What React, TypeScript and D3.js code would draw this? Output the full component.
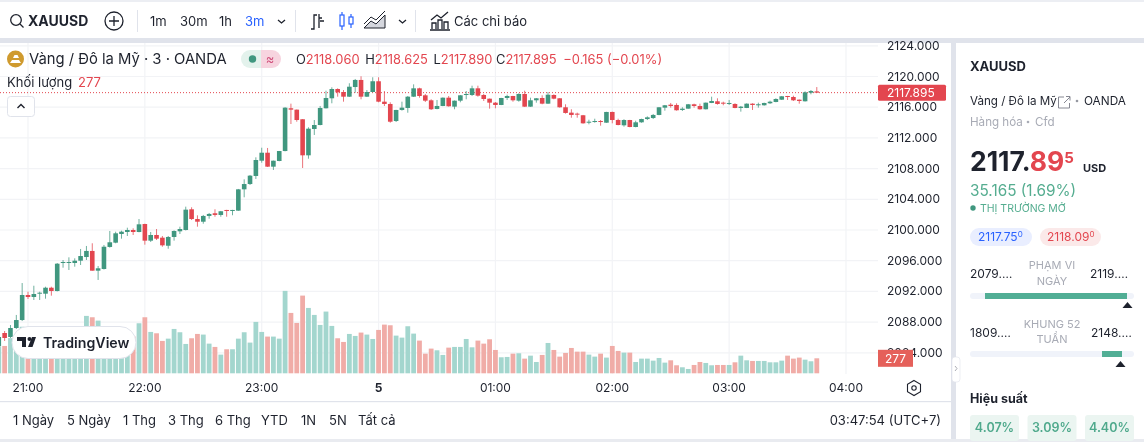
import React, { useEffect, useRef } from "react";
import * as d3 from "d3";

// 3 minute bars, first one is 20:45
const opens = [
  2084.89, 2086.58, 2086.06, 2087.23, 2088.27,
  2091.53, 2091.27, 2091.75, 2091.7, 2092.48, 2092.05, 2095.7, 2095.74, 2095.7, 2096.0,
  2096.48, 2097.27, 2094.7, 2094.92, 2097.79, 2098.35, 2099.48, 2099.74, 2100.0, 2099.74,
  2100.78, 2098.61, 2099.35, 2099.0, 2097.95, 2099.09, 2099.83, 2100.0, 2102.7, 2101.43,
  2101.08, 2101.83, 2102.18, 2101.96, 2102.61, 2102.52, 2102.52, 2105.3, 2105.99, 2107.04,
  2109.03, 2110.07, 2108.25, 2108.99, 2110.29, 2115.86, 2115.68, 2114.43, 2109.73, 2113.16,
  2113.68, 2115.86, 2117.16, 2118.37, 2117.98, 2117.37, 2118.63, 2119.55, 2117.37, 2117.98,
  2119.38, 2116.72, 2116.42, 2114.2, 2115.64, 2115.9, 2117.37, 2118.46, 2117.55, 2116.9,
  2115.77, 2116.16, 2117.24, 2116.07, 2116.85, 2117.59, 2117.59, 2118.46, 2117.59, 2117.11,
  2116.59, 2116.29, 2117.2, 2117.46, 2116.85, 2117.72, 2116.07, 2116.9, 2117.2, 2116.46,
  2117.59, 2117.16, 2115.99, 2115.29, 2115.16, 2114.95, 2114.03, 2114.11, 2114.2, 2113.98,
  2115.38, 2114.33, 2113.64, 2114.33, 2113.42, 2114.03, 2114.46, 2114.59, 2114.99, 2115.94,
  2116.33, 2116.29, 2115.64, 2115.81, 2116.38, 2116.16, 2115.73, 2116.55, 2116.77, 2116.59,
  2116.42, 2116.42, 2115.9, 2115.9, 2116.46, 2116.25, 2116.25, 2116.51, 2116.68, 2116.98,
  2117.46, 2117.33, 2116.98, 2116.77, 2117.89, 2118.06,
];
const closes = [
  2086.06, 2085.93, 2087.23, 2088.27, 2091.53,
  2091.27, 2091.66, 2091.83, 2092.48, 2092.05, 2095.61, 2095.83, 2095.83, 2096.0, 2096.61,
  2097.27, 2094.7, 2095.01, 2097.82, 2098.4, 2099.57, 2099.78, 2100.0, 2099.74, 2100.74,
  2098.61, 2099.35, 2098.87, 2098.0, 2099.09, 2099.87, 2100.13, 2102.65, 2101.43, 2101.08,
  2101.83, 2102.09, 2101.96, 2102.44, 2102.48, 2102.61, 2105.3, 2105.99, 2107.08, 2109.12,
  2110.07, 2108.25, 2109.03, 2110.29, 2115.94, 2115.68, 2114.33, 2109.73, 2113.2, 2113.68,
  2115.9, 2117.2, 2118.37, 2117.94, 2117.37, 2118.67, 2119.55, 2117.37, 2117.98, 2119.38,
  2116.72, 2116.42, 2114.11, 2115.64, 2115.94, 2117.37, 2118.46, 2117.46, 2116.85, 2115.73,
  2116.16, 2117.24, 2116.12, 2116.85, 2117.55, 2117.72, 2118.46, 2117.5, 2117.07, 2116.59,
  2116.29, 2117.2, 2117.46, 2116.9, 2117.72, 2116.07, 2116.9, 2117.16, 2116.46, 2117.63,
  2117.11, 2115.99, 2115.25, 2114.99, 2115.03, 2113.9, 2114.11, 2114.2, 2114.07, 2115.38,
  2114.33, 2113.68, 2114.33, 2113.42, 2114.03, 2114.46, 2114.68, 2114.99, 2115.99, 2116.25,
  2116.16, 2115.6, 2115.81, 2116.38, 2116.16, 2115.73, 2116.59, 2116.81, 2116.42, 2116.46,
  2116.55, 2115.9, 2116.07, 2116.46, 2116.29, 2116.38, 2116.55, 2116.72, 2117.07, 2117.42,
  2117.33, 2116.9, 2116.81, 2117.94, 2118.11, 2117.895,
];
const highs = [
  2086.3, 2086.84, 2087.62, 2088.93, 2093.09,
  2091.96, 2092.74, 2091.96, 2092.61, 2092.61, 2095.7, 2096.09, 2096.44, 2096.31, 2097.53,
  2097.92, 2098.27, 2095.31, 2098.05, 2099.87, 2099.78, 2099.91, 2100.3, 2100.22, 2101.43,
  2100.82, 2099.74, 2100.13, 2099.22, 2099.22, 2099.96, 2100.43, 2103.04, 2102.96, 2101.91,
  2101.96, 2102.22, 2102.7, 2102.48, 2102.63, 2102.63, 2105.35, 2106.6, 2107.17, 2109.47,
  2110.72, 2110.69, 2109.05, 2110.3, 2116.0, 2116.46, 2115.7, 2114.45, 2113.38, 2114.33,
  2116.16, 2118.15, 2118.59, 2118.46, 2118.24, 2119.12, 2119.68, 2120.03, 2118.24, 2119.9,
  2119.9, 2118.11, 2116.64, 2115.66, 2116.72, 2117.46, 2118.98, 2118.54, 2117.72, 2117.03,
  2116.94, 2117.27, 2117.46, 2116.88, 2117.59, 2118.11, 2118.8, 2118.8, 2117.72, 2117.12,
  2116.68, 2117.22, 2117.63, 2117.48, 2117.81, 2118.15, 2117.24, 2117.2, 2117.55, 2117.98,
  2117.68, 2117.18, 2116.38, 2115.73, 2115.29, 2114.99, 2114.37, 2114.5, 2114.33, 2115.4,
  2115.42, 2114.5, 2114.43, 2114.35, 2114.24, 2114.5, 2114.81, 2115.12, 2116.0, 2116.29,
  2116.55, 2116.51, 2115.99, 2116.42, 2116.46, 2116.46, 2116.61, 2117.37, 2117.16, 2116.72,
  2116.94, 2116.51, 2116.16, 2116.5, 2116.51, 2116.59, 2116.59, 2116.85, 2117.16, 2117.46,
  2117.47, 2117.5, 2117.0, 2118.07, 2118.24, 2118.625,
];
const lows = [
  2084.6, 2085.54, 2085.93, 2087.1, 2088.14,
  2091.01, 2090.88, 2090.88, 2091.05, 2091.44, 2092.0, 2095.09, 2094.79, 2095.22, 2095.44,
  2096.09, 2094.7, 2093.49, 2094.85, 2097.7, 2098.27, 2098.87, 2099.22, 2099.35, 2099.7,
  2098.09, 2098.44, 2098.7, 2097.82, 2097.56, 2098.61, 2099.48, 2099.94, 2101.3, 2100.43,
  2100.82, 2101.47, 2101.73, 2101.73, 2101.73, 2101.92, 2102.5, 2104.26, 2105.87, 2106.65,
  2108.77, 2108.21, 2107.82, 2108.95, 2110.25, 2113.81, 2114.11, 2108.08, 2109.29, 2112.38,
  2113.64, 2115.84, 2116.51, 2117.37, 2116.72, 2117.33, 2117.89, 2117.03, 2117.33, 2117.94,
  2116.64, 2116.16, 2113.98, 2114.07, 2115.55, 2115.28, 2117.33, 2117.24, 2116.68, 2115.64,
  2115.73, 2116.13, 2116.07, 2115.73, 2116.64, 2117.03, 2117.46, 2117.37, 2116.81, 2115.81,
  2115.86, 2116.27, 2116.94, 2116.72, 2116.72, 2116.04, 2116.04, 2116.59, 2116.38, 2116.43,
  2117.03, 2115.94, 2115.16, 2114.63, 2114.63, 2113.85, 2113.77, 2113.98, 2113.59, 2113.96,
  2113.9, 2113.64, 2113.46, 2113.38, 2113.38, 2113.98, 2114.33, 2114.46, 2114.95, 2115.55,
  2115.94, 2115.55, 2115.51, 2115.79, 2115.94, 2115.68, 2115.71, 2116.53, 2116.33, 2116.25,
  2116.29, 2115.86, 2115.42, 2115.88, 2115.64, 2115.94, 2116.2, 2116.42, 2116.64, 2116.94,
  2116.94, 2116.81, 2116.46, 2116.74, 2117.68, 2117.89,
];
const volumes = [
  500, 505, 650, 700, 860,
  585, 640, 520, 600, 560, 700, 600, 520, 540, 620,
  1060, 1035, 973, 760, 700, 620, 520, 600, 680, 924,
  1035, 764, 739, 598, 640, 819, 758, 542, 647, 727,
  715, 548, 487, 345, 444, 444, 640, 758, 567, 949,
  764, 678, 678, 640, 1522, 1115, 930, 1435, 1207, 1078,
  893, 1140, 875, 647, 579, 727, 690, 752, 715, 634,
  801, 899, 887, 696, 659, 869, 733, 604, 363, 456,
  425, 339, 474, 487, 487, 634, 480, 604, 548, 628,
  431, 296, 302, 363, 370, 271, 326, 209, 339, 560,
  431, 308, 376, 468, 400, 400, 345, 308, 363, 290,
  505, 413, 382, 382, 209, 271, 271, 234, 283, 197,
  240, 148, 111, 80, 154, 209, 191, 148, 154, 154,
  154, 203, 326, 240, 228, 228, 228, 203, 203, 234,
  326, 271, 290, 252, 222, 277,
];

const priceTicks = [2124, 2120, 2116, 2112, 2108, 2104, 2100, 2096, 2092, 2088, 2084];
const hourLabels = ["21:00", "22:00", "23:00", "5", "01:00", "02:00", "03:00", "04:00"];
const rangeLabels = ["1 Ngày", "5 Ngày", "1 Thg", "3 Thg", "6 Thg", "YTD", "1N", "5N", "Tất cả"];
const rangeX = [13, 67, 123, 168, 215, 261, 301, 329, 358];
const performance = ["4.07%", "3.09%", "4.40%"];
const lastPrice = 2117.895;
const lastVolume = 277;

const UP = "#40977F";
const DOWN = "#E3464F";
const VOL_UP = "#A3D6CE";
const VOL_DOWN = "#F0ACA7";
const GRID = "#F2F3F6";
const EDGE = "#E0E3EB";
const INK = "#1E222D";
const FONT = "Inter, 'Noto Sans', sans-serif";

const App: React.FC = () => {
  const chartRef = useRef<SVGGElement>(null);

  useEffect(() => {
    const x = d3.scaleLinear().domain([5, 145]).range([28, 846]);
    const y = d3.scaleLinear().domain([2084, 2120]).range([352.8, 76.5]);
    const v = d3.scaleLinear().domain([0, 277]).range([373.3, 358.3]);
    const bars = d3.range(opens.length);
    const hours = hourLabels.map((d, i) => ({ label: d, idx: 5 + i * 20 }));

    const g = d3.select(chartRef.current);
    g.selectAll("*").remove();

    g.append("g")
      .selectAll("line")
      .data(priceTicks)
      .join("line")
      .attr("x1", 0)
      .attr("x2", 878)
      .attr("y1", (d) => y(d))
      .attr("y2", (d) => y(d))
      .attr("stroke", GRID)
      .attr("stroke-width", 1.2);

    g.append("g")
      .selectAll("line")
      .data(hours)
      .join("line")
      .attr("x1", (d) => x(d.idx))
      .attr("x2", (d) => x(d.idx))
      .attr("y1", 43)
      .attr("y2", 374)
      .attr("stroke", GRID)
      .attr("stroke-width", 1.2);

    // volume goes under the candles
    g.append("g")
      .selectAll("rect")
      .data(bars)
      .join("rect")
      .attr("x", (i) => x(i) - 2.4)
      .attr("width", 4.8)
      .attr("y", (i) => v(volumes[i]))
      .attr("height", (i) => v(0) - v(volumes[i]))
      .attr("fill", (i) => (closes[i] >= opens[i] ? VOL_UP : VOL_DOWN));

    g.append("line")
      .attr("x1", 0)
      .attr("x2", 878)
      .attr("y1", y(lastPrice))
      .attr("y2", y(lastPrice))
      .attr("stroke", DOWN)
      .attr("stroke-width", 1)
      .attr("stroke-dasharray", "1 2");

    g.append("g")
      .selectAll("line")
      .data(bars)
      .join("line")
      .attr("x1", (i) => x(i))
      .attr("x2", (i) => x(i))
      .attr("y1", (i) => y(highs[i]))
      .attr("y2", (i) => y(lows[i]))
      .attr("stroke", (i) => (closes[i] >= opens[i] ? UP : DOWN))
      .attr("stroke-opacity", 0.75)
      .attr("stroke-width", 1);

    g.append("g")
      .selectAll("rect")
      .data(bars)
      .join("rect")
      .attr("x", (i) => x(i) - 2.3)
      .attr("width", 4.6)
      .attr("y", (i) => y(Math.max(opens[i], closes[i])))
      .attr("height", (i) => Math.max(1, Math.abs(y(opens[i]) - y(closes[i]))))
      .attr("fill", (i) => (closes[i] >= opens[i] ? UP : DOWN));

    // price scale
    g.append("g")
      .selectAll("text")
      .data(priceTicks)
      .join("text")
      .attr("x", 887)
      .attr("y", (d) => y(d) + 4)
      .attr("font-size", 12)
      .attr("fill", INK)
      .text((d) => d3.format(".3f")(d));

    g.append("rect")
      .attr("x", 878)
      .attr("y", y(lastPrice) - 8)
      .attr("width", 68)
      .attr("height", 16)
      .attr("rx", 1.5)
      .attr("fill", DOWN);
    g.append("text")
      .attr("x", 887)
      .attr("y", y(lastPrice) + 4.3)
      .attr("font-size", 12)
      .attr("fill", "#fff")
      .text(d3.format(".3f")(lastPrice));

    g.append("rect")
      .attr("x", 878)
      .attr("y", v(lastVolume) - 8.5)
      .attr("width", 35)
      .attr("height", 17)
      .attr("fill", "#E5605A");
    g.append("text")
      .attr("x", 895.5)
      .attr("y", v(lastVolume) + 4.3)
      .attr("font-size", 12)
      .attr("text-anchor", "middle")
      .attr("fill", "#fff")
      .text(lastVolume);

    // time scale
    g.append("g")
      .selectAll("text")
      .data(hours)
      .join("text")
      .attr("x", (d) => x(d.idx))
      .attr("y", 392)
      .attr("text-anchor", "middle")
      .attr("font-size", 12)
      .attr("font-weight", (d) => (d.label === "5" ? 700 : 400))
      .attr("fill", INK)
      .text((d) => d.label);
  }, []);

  return (
    <svg
      width={1144}
      height={442}
      style={{ position: "absolute", left: 0, top: 0, background: "#fff", fontFamily: FONT, filter: "blur(0.3px)" }}
    >
      {/* frame */}
      <rect x={0} y={0} width={1144} height={2} fill="#ECEEF3" />
      <rect x={0} y={38} width={1144} height={5} fill={EDGE} />
      <rect x={951} y={38} width={5} height={404} fill={EDGE} />
      <rect x={0} y={401} width={951} height={1.2} fill={EDGE} />
      <rect x={0} y={439} width={1144} height={3} fill="#E9EBF0" />

      {/* toolbar */}
      <g fill="none" stroke={INK} strokeWidth={1.3}>
        <circle cx={16} cy={20} r={5.3} />
        <path d="M20 24l3.5 3.5" />
        <circle cx={114} cy={21} r={9} />
        <path d="M109 21h10M114 16v10" />
        <path d="M278 20l3.5 3 3.5-3M399 20l3.5 3 3.5-3" />
        <path d="M311 29h3V15h3M319 14v14M319 18h3h0M320 21h4" />
        <path d="M430 30h20M432 29v-6h4v6M438 29v-9h4v9M444 29v-7h4v7M431 20l6-5 4 3 7-6" />
      </g>
      <g stroke="#2962FF" fill="none" strokeWidth={1.2}>
        <path d="M342 12v18M351 14v14" />
        <rect x={340} y={15} width={4} height={11} fill="#fff" />
        <rect x={349} y={17} width={4} height={7} fill="#fff" />
      </g>
      <path d="M364 28l7-7 5 3 9-9v13z" fill="#D5D7DE" stroke={INK} strokeWidth={1} />
      <path d="M364 24l7-7 5 3 9-9" fill="none" stroke={INK} strokeWidth={1} />
      <rect x={137} y={10} width={1} height={22} fill={EDGE} />
      <rect x={295} y={10} width={1} height={22} fill={EDGE} />
      <rect x={415} y={10} width={1} height={22} fill={EDGE} />
      <text x={28} y={26} fontSize={14} fontWeight={700} fill={INK}>XAUUSD</text>
      <g fontSize={13} fill={INK}>
        <text x={150} y={26}>1m</text>
        <text x={180} y={26}>30m</text>
        <text x={219} y={26}>1h</text>
        <text x={245} y={26} fill="#2962FF">3m</text>
        <text x={454} y={26}>Các chỉ báo</text>
      </g>

      <g ref={chartRef} style={{ fontFamily: FONT }} />

      {/* legend */}
      <circle cx={15.5} cy={59} r={8.5} fill="#CF9A2E" />
      <path d="M10 63l2-3h7l2 3zM13 58l1.5-3h3l1.5 3z" fill="#fff" />
      <text x={29} y={64} fontSize={14.8} fill={INK}>Vàng / Đô la Mỹ · 3 · OANDA</text>
      <path d="M250 50h11v18h-11a9 9 0 0 1 0-18z" fill="#E3F2EC" />
      <path d="M261 50h11a9 9 0 0 1 0 18h-11z" fill="#F7D4DF" />
      <circle cx={252.5} cy={59} r={3.7} fill={UP} />
      <text x={270} y={64} fontSize={13} textAnchor="middle" fill="#D1527D">≈</text>
      <text x={296} y={64} fontSize={12.9} fill={DOWN} xmlSpace="preserve">
        <tspan fill={INK}>O</tspan>2118.060
        <tspan fill={INK} dx={2}> H</tspan>2118.625
        <tspan fill={INK} dx={2}> L</tspan>2117.890
        <tspan fill={INK} dx={0}> C</tspan>2117.895
        <tspan dx={3}> −0.165 (−0.01%)</tspan>
      </text>
      <text x={7} y={87} fontSize={13} fill={INK}>Khối lượng</text>
      <text x={78} y={87} fontSize={13} fill={DOWN}>277</text>
      <rect x={7.5} y={96.5} width={27} height={20} rx={3} fill="#fff" stroke={EDGE} />
      <path d="M17.5 108l3.5-3.5 3.5 3.5" fill="none" stroke={INK} strokeWidth={1.4} />

      {/* watermark */}
      <rect x={12} y={326.5} width={124} height={32} rx={16} fill="#fff" stroke={EDGE} />
      <path d="M17 337h9v10h-4v-6h-5zM36 337h-4l-4 10h4.500z" fill={INK} />
      <circle cx={29.5} cy={339} r={2} fill={INK} />
      <text x={43} y={348} fontSize={14.2} fontWeight={600} fill={INK}>TradingView</text>

      {/* range bar */}
      <g fontSize={13} fill={INK}>
        {rangeLabels.map((d, i) => (
          <text key={d} x={rangeX[i]} y={425}>{d}</text>
        ))}
        <text x={941} y={425} textAnchor="end">03:47:54 (UTC+7)</text>
      </g>
      <path d="M914 380.500l6.500 3.700v7.600l-6.500 3.700-6.500-3.700v-7.600z" fill="none" stroke={INK} strokeWidth={1.1} />
      <circle cx={914} cy={388} r={2.2} fill="none" stroke={INK} strokeWidth={1.1} />

      {/* side panel */}
      <rect x={952} y={357} width={8} height={25} rx={3} fill="#fff" stroke={EDGE} strokeWidth={0.6} />
      <path d="M955 366l2 2.500-2 2.500" fill="none" stroke="#9598A1" strokeWidth={0.8} />
      <text x={970} y={71} fontSize={13} fontWeight={700} fill={INK}>XAUUSD</text>
      <text x={970} y={105} fontSize={11.6} fill={INK}>Vàng / Đô la Mỹ</text>
      <path d="M1064 97h-5.500v11h11v-5M1064 103l6-6M1066 96.500h4v4" fill="none" stroke="#787B86" strokeWidth={0.9} />
      <circle cx={1077} cy={101} r={1.3} fill="#9598A1" />
      <text x={1084} y={105} fontSize={11.8} fill={INK}>OANDA</text>
      <text x={970} y={126} fontSize={11.6} fill="#A8ABB5">Hàng hóa</text>
      <circle cx={1028} cy={122} r={1.3} fill="#A8ABB5" />
      <text x={1035} y={126} fontSize={11.6} fill="#A8ABB5">Cfd</text>
      <text x={970} y={171} fontSize={26.5} fontWeight={700} fill={INK}>
        2117.<tspan fill={DOWN}>89</tspan>
        <tspan fill={DOWN} fontSize={15} dy={-8}>5</tspan>
      </text>
      <text x={1083} y={172} fontSize={11} fontWeight={700} fill={INK}>USD</text>
      <text x={970} y={196} fontSize={15.3} fill="#55AD90">35.165 (1.69%)</text>
      <circle cx={973} cy={208} r={2.7} fill={UP} />
      <text x={980} y={212} fontSize={10.5} fill="#55AD90">THỊ TRƯỜNG MỞ</text>
      <rect x={970} y={228} width={62} height={18} rx={9} fill="#E9EEFF" />
      <rect x={1040} y={228} width={61} height={18} rx={9} fill="#FBE9E9" />
      <text x={978} y={241} fontSize={12} fill="#2962FF">
        2117.75<tspan fontSize={8} dy={-4}>0</tspan>
      </text>
      <text x={1047} y={241} fontSize={12} fill={DOWN}>
        2118.09<tspan fontSize={8} dy={-4}>0</tspan>
      </text>

      <text x={970} y={278} fontSize={12} fill={INK}>2079.…</text>
      <text x={1090} y={278} fontSize={12} fill={INK}>2119.…</text>
      <text x={1052} y={269} fontSize={11} textAnchor="middle" fill="#A8ABB5">PHẠM VI</text>
      <text x={1052} y={285} fontSize={11} textAnchor="middle" fill="#A8ABB5">NGÀY</text>
      <rect x={970} y={293} width={164} height={6} rx={3} fill="#F0F3FA" />
      <rect x={985} y={293} width={142} height={6} fill="#51AE95" />
      <path d="M1127.500 302l5 6h-10z" fill={INK} />

      <text x={970} y={337} fontSize={12} fill={INK}>1809.…</text>
      <text x={1091} y={337} fontSize={12} fill={INK}>2148.…</text>
      <text x={1052} y={328} fontSize={11} textAnchor="middle" fill="#A8ABB5">KHUNG 52</text>
      <text x={1052} y={343} fontSize={11} textAnchor="middle" fill="#A8ABB5">TUẦN</text>
      <rect x={970} y={351} width={164} height={6} rx={3} fill="#F0F3FA" />
      <rect x={1102} y={351} width={20} height={6} fill="#51AE95" />
      <path d="M1120.500 361l5 6h-10z" fill={INK} />

      <text x={970} y={403} fontSize={12.5} fontWeight={700} fill={INK}>Hiệu suất</text>
      {performance.map((d, i) => (
        <g key={d}>
          <rect x={970 + i * 57.5} y={415} width={49} height={26} rx={3} fill="#EBF5F1" />
          <text x={994.5 + i * 57.5} y={432} fontSize={12.5} fontWeight={600} textAnchor="middle" fill="#4FA98C">
            {d}
          </text>
        </g>
      ))}
    </svg>
  );
};

export default App;
